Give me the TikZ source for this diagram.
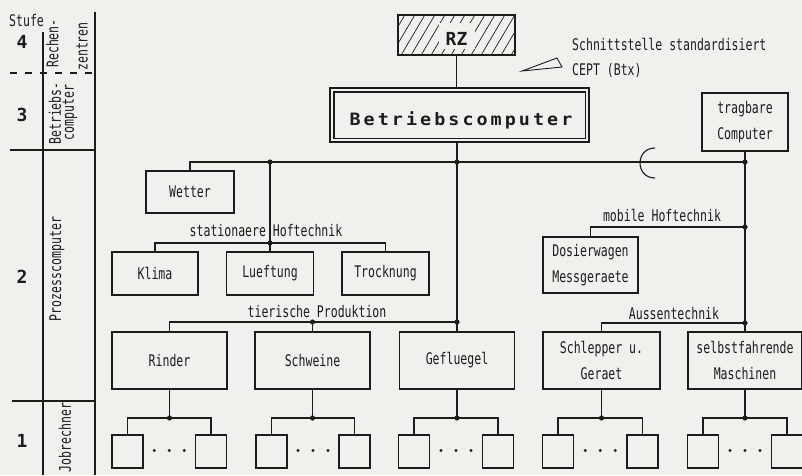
\documentclass[tikz,border=0pt]{standalone}
\usepackage{fontspec}
\usetikzlibrary{calc}
\newfontfamily\plotfont[FakeStretch=0.72]{DejaVu Sans Mono}
\newfontfamily\widefont[FakeStretch=1.08,LetterSpace=18]{DejaVu Sans Mono Bold}
\newfontfamily\numfont{DejaVu Sans Mono Bold}
\definecolor{bg}{RGB}{240,240,237}
\definecolor{ink}{RGB}{28,28,28}
\tikzset{
  box/.style={draw, line width=1.1pt, inner sep=0pt, align=center,
    font=\plotfont\fontsize{16}{26}\selectfont},
  small/.style={box, minimum width=31pt, minimum height=33pt},
  big/.style={box, minimum height=57pt},
  mid/.style={box, minimum height=43pt},
  lbl/.style={inner sep=0pt, font=\plotfont\fontsize{16}{20}\selectfont},
  side/.style={inner sep=0pt, rotate=90, font=\plotfont\fontsize{16}{20}\selectfont},
  num/.style={inner sep=0pt, font=\numfont\fontsize{18}{20}\selectfont},
  wide/.style={font=\widefont\fontsize{17}{20}\selectfont, text height=20pt, text depth=0pt},
  rzfont/.style={font=\numfont\fontsize{18}{20}\selectfont, text height=20pt, text depth=0pt},
  ln/.style={line width=1.1pt},
}
\begin{document}
\begin{tikzpicture}[x=1pt,y=-1pt,color=ink]
\fill[bg] (0,0) rectangle (802,475);
\useasboundingbox (0,0) rectangle (802,475);

% ---------- level scale ----------
\node[lbl, anchor=base west] (stufe) at (9,26) {Stufe};
\node[num] (n4) at (22,42) {4};
\node[num] (n3) at (22,115) {3};
\node[num] (n2) at (22,277) {2};
\node[num] (n1) at (22,441) {1};
\node[side] (sre) at (52.5,43.5) {Rechen-};
\node[side] (sze) at (82,46.5) {zentren};
\node[side] (sbe) at (55,113.5) {Betriebs-};
\node[side] (sco) at (70,112.5) {computer};
\node[side] (spr) at (57,269) {Prozesscomputer};
\node[side] (sjo) at (65,437.5) {Jobrechner};
\draw[ln] (43,32) -- (43,475);
\draw[ln] (95,12) -- (95,475);
\draw[ln, dash pattern=on 7pt off 8pt] (10,73) -- (95,73);
\draw[ln] (10,150) -- (95,150);
\draw[ln] (12,401) -- (95,401);

% ---------- RZ ----------
\begin{scope}
  \clip (398,15) rectangle (515,55);
  \foreach \i in {-4,...,12} \draw[line width=0.7pt] (390+\i*10,57) -- ++(26,-44);
\end{scope}
\fill[bg] (439,23) rectangle (475,49);
\node[box, rzfont, minimum width=117pt, minimum height=40pt] (rz) at (456.5,35) {RZ};

% ---------- Betriebscomputer ----------
\node[box, wide, minimum width=259pt, minimum height=54pt] (bc) at (459.5,115) {\hspace*{3pt}Betriebscomputer};
\draw[ln] ([shift={(4.5,4.5)}]bc.north west) rectangle ([shift={(-4.5,-4.5)}]bc.south east);

% annotation
\node[lbl, anchor=base west] (note1) at (572,50) {Schnittstelle standardisiert};
\node[lbl, anchor=base west] (note2) at (572,75) {CEPT (Btx)};
\draw[line width=0.9pt] (522,71) -- (557,58) -- (562,67) -- cycle;

% ---------- level 2 boxes ----------
\node[box, minimum width=86pt, minimum height=58pt] (trag) at (745,122) {tragbare\\Computer};
\node[mid, minimum width=88pt, minimum height=42pt] (wet) at (190,192) {Wetter};
\node[mid, minimum width=86pt] (kli) at (155,273.5) {Klima};
\node[mid, minimum width=87pt] (lue) at (270,273.5) {Lueftung};
\node[mid, minimum width=87pt] (tro) at (385.5,273.5) {Trocknung};
\node[box, minimum width=95pt, minimum height=56pt] (dos) at (590.5,265) {Dosierwagen\\Messgeraete};
\node[big, minimum width=115pt] (rin) at (169.5,360.5) {Rinder};
\node[big, minimum width=115pt] (sch) at (312.5,360.5) {Schweine};
\node[big, minimum width=115pt] (gef) at (457,360.5) {Gefluegel};
\node[big, minimum width=117pt] (schl) at (601.5,360.5) {Schlepper u.\\Geraet};
\node[big, minimum width=114pt] (selb) at (745,360.5) {selbstfahrende\\Maschinen};

% ---------- level 1 boxes ----------
\node[small] (rinL) at (127.5,451.5) {};
\node[small] (rinR) at (211,451.5) {};
\node[small] (schL) at (271.5,451.5) {};
\node[small] (schR) at (354.5,451.5) {};
\node[small] (gefL) at (414,451.5) {};
\node[small] (gefR) at (498,451.5) {};
\node[small] (slL) at (558,451.5) {};
\node[small] (slR) at (642.5,451.5) {};
\node[small] (seL) at (703,451.5) {};
\node[small] (seR) at (787,451.5) {};

% ---------- bus labels ----------
\node[lbl, anchor=base] (lst) at (266,236) {stationaere Hoftechnik};
\node[lbl, anchor=base] (ltp) at (317,317) {tierische Produktion};
\node[lbl, anchor=base] (lmo) at (662,221) {mobile Hoftechnik};
\node[lbl, anchor=base] (lau) at (674,319) {Aussentechnik};

% ---------- connectors ----------
\coordinate (j1) at (457,162);
\coordinate (js) at (270,162);
\coordinate (jr) at (745,162);
\coordinate (jh) at (270,243);
\coordinate (jt) at (457,322);
\coordinate (jm) at (745,227);
\coordinate (ja) at (745,323);
\coordinate (sub) at (0,418);

\draw[ln] (rz.south) -- (rz.south |- bc.north);
\draw[ln] (bc.south -| j1) -- (j1) -- (gef.north);
\draw[ln] (wet.north) -- (wet.north |- j1) -- (jr);
\draw[ln] (trag.south) -- (selb.north);
\draw[ln] (655,148) .. controls (635,148) and (635,178) .. (655,178);
% stationaere Hoftechnik
\draw[ln] (js) -- (lue.north);
\draw[ln] (kli.north) -- (kli.north |- jh) -- (tro.north |- jh) -- (tro.north);
% tierische Produktion
\coordinate (jsw) at (sch.north |- jt);
\draw[ln] (rin.north) -- (rin.north |- jt) -- (jt);
\draw[ln] (jsw) -- (sch.north);
% mobile Hoftechnik / Aussentechnik
\draw[ln] (dos.north) -- (dos.north |- jm) -- (jm);
\draw[ln] (schl.north) -- (schl.north |- ja) -- (ja);

% level 1 groups
\foreach \b/\l/\r in {rin/rinL/rinR, sch/schL/schR, gef/gefL/gefR, schl/slL/slR, selb/seL/seR}{
  \coordinate (\b-j) at (\b.south |- sub);
  \draw[ln] (\b.south) -- (\b-j);
  \draw[ln] (\l.north) -- (\l.north |- sub) -- (\r.north |- sub) -- (\r.north);
  \fill (\b-j) circle (2.6pt);
  \foreach \d in {-15,0,15} \fill ($(\l.east)!0.5!(\r.west)+(\d,-1)$) circle (1.6pt);
}

% junction dots
\foreach \p in {j1,js,jr,jh,jt,jm,ja,jsw} \fill (\p) circle (2.6pt);
\end{tikzpicture}
\end{document}
